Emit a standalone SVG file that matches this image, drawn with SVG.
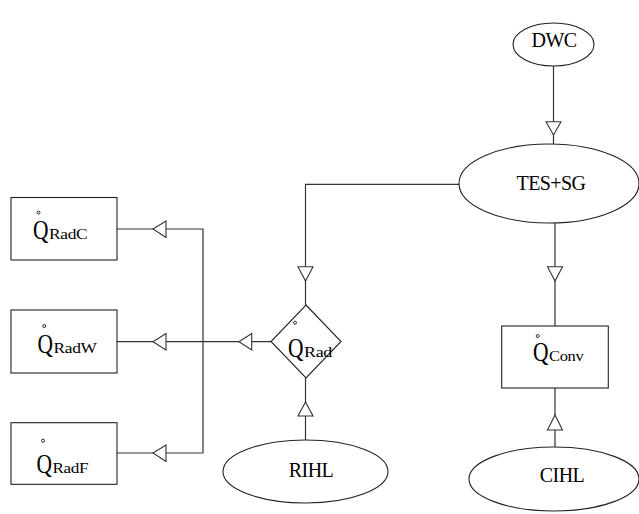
<svg xmlns="http://www.w3.org/2000/svg" width="639" height="514" viewBox="0 0 639 514">
<style>
.shape{fill:#fff;stroke:#222;stroke-width:1.1}
.ln{fill:none;stroke:#333;stroke-width:1.2}
.ah{fill:#fff;stroke:#333;stroke-width:1.1;stroke-linejoin:miter}
text{font-family:'Liberation Serif','DejaVu Serif','Noto Serif','Times New Roman',serif;fill:#000}
.lbl{font-size:20px;letter-spacing:-0.6px}
.q{font-size:27px}
.sub{font-size:15.5px;letter-spacing:-0.3px}
.dot{fill:none;stroke:#111;stroke-width:0.9}
</style>
<rect width="639" height="514" fill="#fff"/>
<g id="connectors">
  <line class="ln" x1="553.5" y1="66" x2="553.5" y2="144"/>
  <polygon class="ah" points="546,121.7 561,121.7 553.5,135"/>
  <polyline class="ln" points="459,184.3 305.5,184.3 305.5,305"/>
  <polygon class="ah" points="298,266.7 313,266.7 305.5,281"/>
  <line class="ln" x1="555" y1="223" x2="555" y2="326"/>
  <polygon class="ah" points="547.5,266.7 562.5,266.7 555,281"/>
  <line class="ln" x1="305.5" y1="440" x2="305.5" y2="378"/>
  <polygon class="ah" points="298,416 313,416 305.5,402"/>
  <line class="ln" x1="555" y1="447" x2="555" y2="388"/>
  <polygon class="ah" points="547.5,430 562.5,430 555,415"/>
  <line class="ln" x1="271" y1="341.7" x2="117" y2="341.7"/>
  <polygon class="ah" points="251.7,333.5 251.7,350 239,341.7"/>
  <polyline class="ln" points="117,229 203,229 203,453 117,453"/>
  <polygon class="ah" points="166,221 166,237.5 153,229"/>
  <polygon class="ah" points="166,333.5 166,350 153,341.7"/>
  <polygon class="ah" points="166,445 166,461.5 153,453"/>
</g>
<g id="DWC">
  <ellipse class="shape" cx="553.5" cy="44.5" rx="40.5" ry="21.5"/>
  <text class="lbl" x="554" y="46.7" text-anchor="middle">DWC</text>
</g>
<g id="TES_SG">
  <ellipse class="shape" cx="549" cy="183.5" rx="90" ry="39.5"/>
  <text class="lbl" x="551" y="190" text-anchor="middle">TES+SG</text>
</g>
<g id="QRad">
  <polygon class="shape" points="306,305 341,341.5 306,378 271,341.5"/>
  <circle class="dot" cx="295" cy="322.7" r="1.5"/>
  <text class="q" x="288" y="356.5" textLength="15.5" lengthAdjust="spacingAndGlyphs">Q</text>
  <text class="sub" x="304" y="356.5" textLength="28" lengthAdjust="spacingAndGlyphs">Rad</text>
</g>
<g id="RIHL">
  <ellipse class="shape" cx="305.5" cy="471.5" rx="82.5" ry="31.5"/>
  <text class="lbl" x="311" y="477.3" text-anchor="middle">RIHL</text>
</g>
<g id="QConv">
  <rect class="shape" x="501.7" y="326" width="106.6" height="62"/>
  <circle class="dot" cx="537.7" cy="336" r="1.5"/>
  <text class="q" x="533" y="360.7" textLength="15.5" lengthAdjust="spacingAndGlyphs">Q</text>
  <text class="sub" x="549" y="360.7" textLength="34.3" lengthAdjust="spacingAndGlyphs">Conv</text>
</g>
<g id="CIHL">
  <ellipse class="shape" cx="554" cy="479" rx="85" ry="32"/>
  <text class="lbl" x="562" y="481.7" text-anchor="middle">CIHL</text>
</g>
<g id="QRadC">
  <rect class="shape" x="11" y="197.5" width="106" height="62.5"/>
  <circle class="dot" cx="38.5" cy="212.5" r="1.5"/>
  <text class="q" x="33" y="238.5" textLength="15.5" lengthAdjust="spacingAndGlyphs">Q</text>
  <text class="sub" x="49" y="238.5" textLength="38.3" lengthAdjust="spacingAndGlyphs">RadC</text>
</g>
<g id="QRadW">
  <rect class="shape" x="11" y="310" width="106" height="63"/>
  <circle class="dot" cx="44.3" cy="326" r="1.5"/>
  <text class="q" x="37.5" y="352.7" textLength="15.5" lengthAdjust="spacingAndGlyphs">Q</text>
  <text class="sub" x="53.5" y="352.7" textLength="43.2" lengthAdjust="spacingAndGlyphs">RadW</text>
</g>
<g id="QRadF">
  <rect class="shape" x="11" y="422.7" width="106" height="61.6"/>
  <circle class="dot" cx="43" cy="440.7" r="1.5"/>
  <text class="q" x="36.5" y="472.5" textLength="15.5" lengthAdjust="spacingAndGlyphs">Q</text>
  <text class="sub" x="52.5" y="472.5" textLength="35.8" lengthAdjust="spacingAndGlyphs">RadF</text>
</g>
</svg>
